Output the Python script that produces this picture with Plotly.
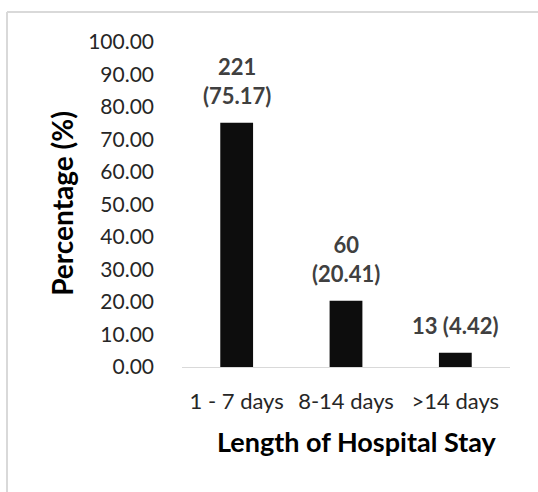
import plotly.graph_objects as go

categories = ["1 - 7 days", "8-14 days", ">14 days"]
percentages = [75.17, 20.41, 4.42]
counts = [221, 60, 13]
label_texts = ["221<br>(75.17)", "60<br>(20.41)", "13 (4.42)"]
y_ticks = [0, 10, 20, 30, 40, 50, 60, 70, 80, 90, 100]

FONT = "Lato, Open Sans, sans-serif"

fig = go.Figure()
fig.add_trace(go.Bar(
    x=categories, y=percentages,
    marker=dict(color="#0d0d0d", line=dict(width=0)),
    width=0.3,
    hoverinfo="x+y",
))

annots = []
for c, p, t in zip(categories, percentages, label_texts):
    annots.append(dict(
        x=c, y=p, text="<b>" + t + "</b>", showarrow=False,
        yanchor="bottom", yshift=12,
        font=dict(family=FONT, size=22, color="#404040"),
    ))

annots.append(dict(text="<b>Percentage (%)</b>", xref="paper", yref="paper", x=-0.366, y=0.505,
                   textangle=-90, showarrow=False, font=dict(family=FONT, size=28, color="#000000"),
                   xanchor="center", yanchor="middle"))
annots.append(dict(text="<b>Length of Hospital Stay</b>", xref="paper", yref="paper", x=0.534, y=-0.228,
                   showarrow=False, font=dict(family=FONT, size=27, color="#000000"),
                   xanchor="center", yanchor="middle"))

fig.update_layout(
    width=538, height=492,
    margin=dict(l=182, r=28, t=42, b=125),
    paper_bgcolor="white", plot_bgcolor="white",
    showlegend=False,
    font=dict(family=FONT, size=21, color="#262626"),
    xaxis=dict(
        showgrid=False, showline=True, linecolor="#d9d9d9", linewidth=1,
        ticks="", tickfont=dict(size=22, color="#262626"), automargin=False,
        ticklabelstandoff=15,
    ),
    yaxis=dict(
        range=[0, 100], tickvals=y_ticks, tickformat=".2f",
        showgrid=False, showline=False, zeroline=False, ticks="",
        tickfont=dict(size=21, color="#262626"), automargin=False,
        ticklabelstandoff=27,
    ),
    shapes=[
        dict(type="line", xref="paper", yref="paper", x0=-0.5335, x1=1.2, y0=1.0923, y1=1.0923,
             line=dict(color="#d9d9d9", width=2)),
        dict(type="line", xref="paper", yref="paper", x0=-0.5335, x1=-0.5335, y0=1.0923, y1=-0.5,
             line=dict(color="#d9d9d9", width=2)),
    ],
    annotations=annots,
)

fig.write_html("out.html", config={"displayModeBar": False},
               post_script="document.body.style.margin='0';")
